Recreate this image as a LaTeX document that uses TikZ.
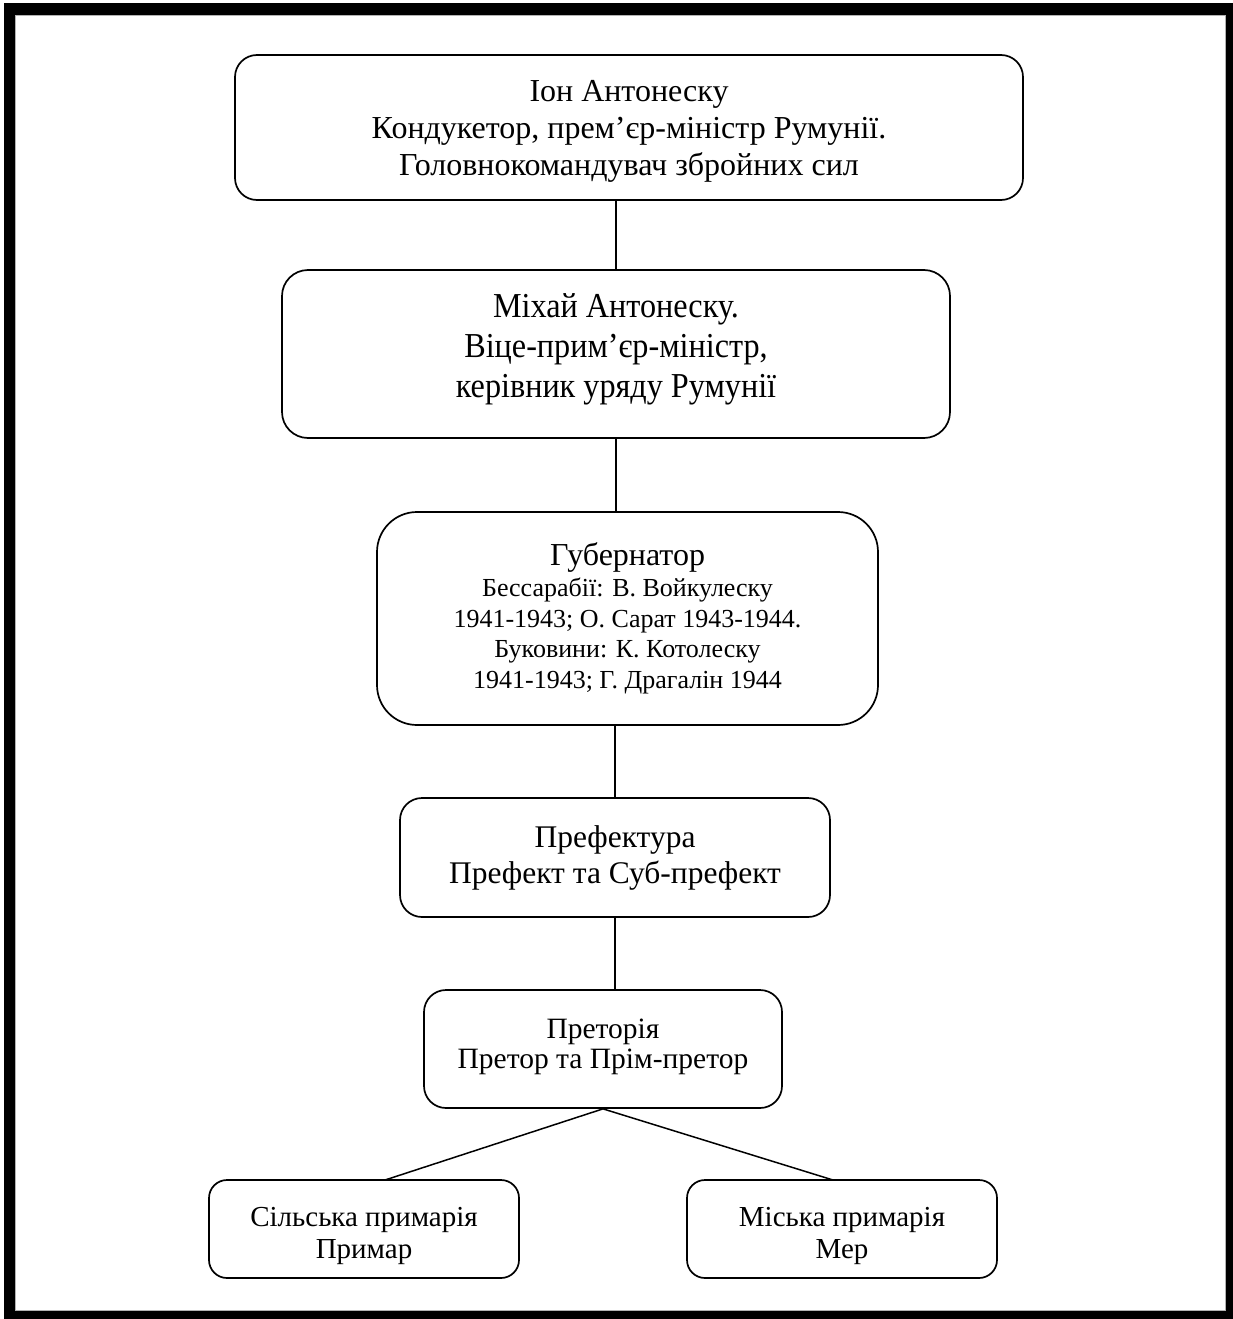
\documentclass[tikz,border=0pt]{standalone}
\usepackage{fontspec}
\setmainfont{Liberation Serif}
\newfontfamily\narrowserif[FakeStretch=0.92]{Liberation Serif}
\begin{document}
\begin{tikzpicture}[x=1pt,y=-1pt,
  box/.style={draw, line width=1.7pt, rounded corners=#1, inner sep=0pt},
  box/.default=20pt,
  txt/.style={align=center, inner sep=0pt},
  conn/.style={line width=1.5pt}]
\useasboundingbox (0,0) rectangle (1233,1319);
\fill[black] (4,3) rectangle (1233,1319);
\fill[white] (15,15) rectangle (1226,1311);
\draw[gray!60, line width=1pt] (15.5,15.5) rectangle (1225.5,1310.5);

\node[box=22pt, minimum width=788pt, minimum height=145pt] (b1) at (629,127.5) {};
\node[txt, font=\fontsize{32}{37}\selectfont] (b1t) at (629,131)
  {Іон Антонеску\\ Кондукетор, прем’єр-міністр Румунії.\\ Головнокомандувач збройних сил};

\node[box=26pt, minimum width=668pt, minimum height=168pt] (b2) at (616,354) {};
\node[txt, font=\narrowserif\fontsize{35}{40}\selectfont] (b2t) at (616,349)
  {Міхай Антонеску.\\ Віце-прим’єр-міністр,\\ керівник уряду Румунії};

\node[box=40pt, minimum width=501pt, minimum height=213pt] (b3) at (627.5,618.5) {};
\node[txt, font=\fontsize{26}{30.5}\selectfont] (b3t) at (627.5,618)
  {{\fontsize{32}{32}\selectfont Губернатор}\\[1pt] Бессарабії: В. Войкулеску\\ 1941-1943; О. Сарат 1943-1944.\\ Буковини: К. Котолеску\\ 1941-1943; Г. Драгалін 1944};

\node[box=22pt, minimum width=430pt, minimum height=119pt] (b4) at (615,857.5) {};
\node[txt, font=\fontsize{31.5}{36}\selectfont] (b4t) at (615,858)
  {Префектура\\ Префект та Суб-префект};

\node[box=22pt, minimum width=358pt, minimum height=118pt] (b5) at (603,1049) {};
\node[txt, font=\fontsize{29.5}{30}\selectfont] (b5t) at (603,1047)
  {Преторія\\ Претор та Прім-претор};

\node[box=18pt, minimum width=310pt, minimum height=98pt] (b6) at (364,1229) {};
\node[txt, font=\fontsize{29}{32}\selectfont] (b6t) at (364,1236)
  {Сільська примарія\\ Примар};

\node[box=18pt, minimum width=310pt, minimum height=98pt] (b7) at (842,1229) {};
\node[txt, font=\fontsize{29}{32}\selectfont] (b7t) at (842,1236)
  {Міська примарія\\ Мер};

\coordinate (t6) at (385,1180);
\coordinate (t7) at (833,1180);
\draw[conn] (b2.north) -- (b2.north |- b1.south);
\draw[conn] (b2.south) -- (b2.south |- b3.north);
\draw[conn] (b4.north) -- (b4.north |- b3.south);
\draw[conn] (b4.south) -- (b4.south |- b5.north);
\draw[conn] (b5.south) -- (t6);
\draw[conn] (b5.south) -- (t7);
\end{tikzpicture}
\end{document}
